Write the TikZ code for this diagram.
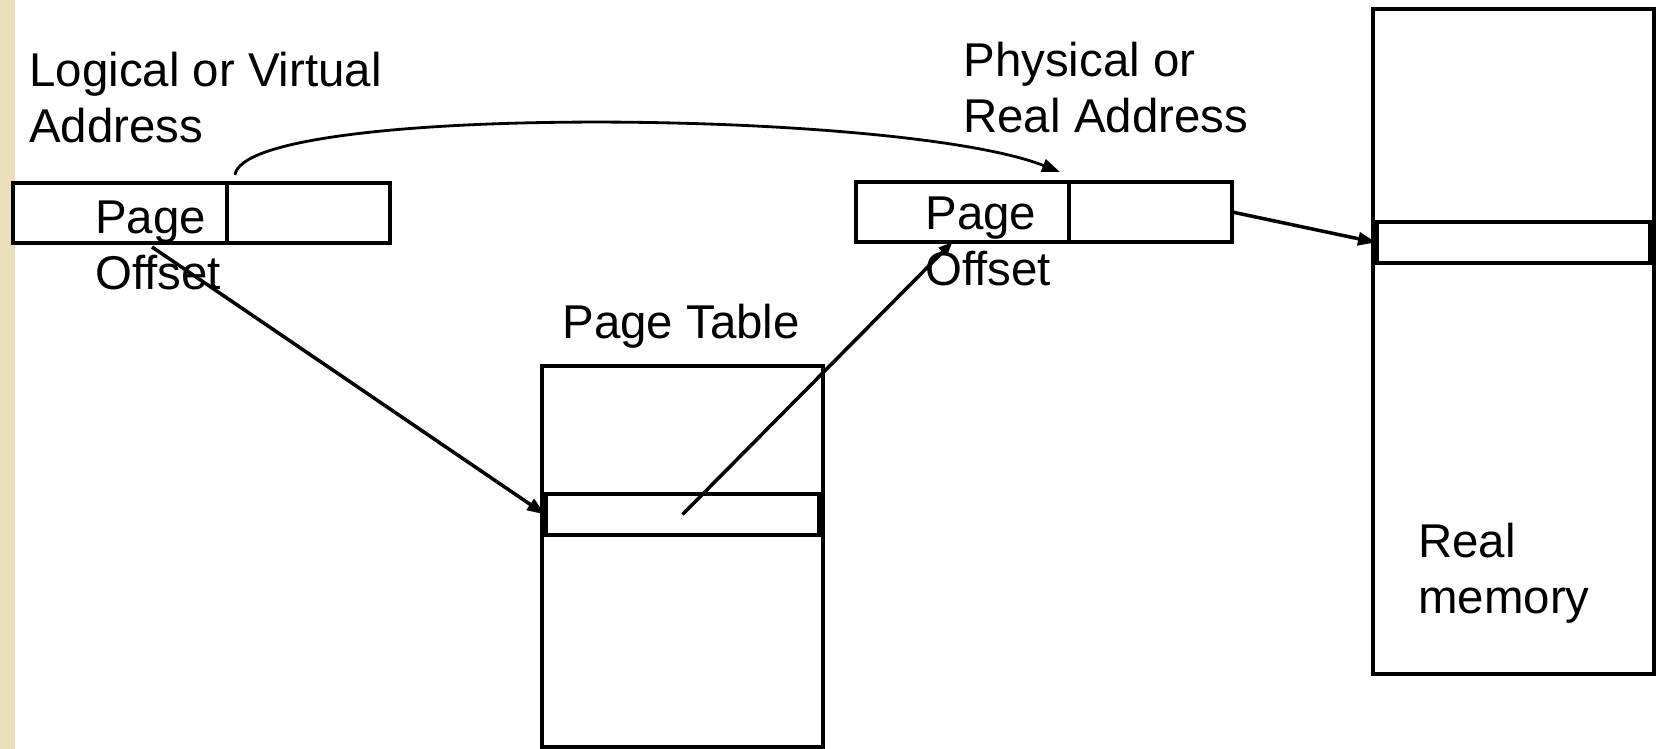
\documentclass[tikz,border=0pt]{standalone}
\usepackage{fontspec}
\setmainfont{Liberation Sans}
\usetikzlibrary{positioning, arrows.meta}
\definecolor{slidetan}{RGB}{236,222,186}
\tikzset{
x=0.02cm, y=0.02cm, % one unit is one pixel of the slide
>={Triangle[length=0.36cm, width=0.26cm]}, % filled arrow heads
every node/.style={font=\fontsize{27}{32.4}\selectfont},
cell/.style={draw, line width=2.2pt, minimum height=1.2cm, inner sep=0pt, outer sep=0pt}, % one field of an address
column/.style={draw, line width=2.2pt, minimum width=5.62cm, inner sep=0pt, outer sep=0pt}, % a block of memory
slot/.style={column, minimum width=5.5cm, minimum height=0.82cm}, % the selected entry
caption/.style={align=left, inner sep=0pt, anchor=base west}, % base sits on the last line
link/.style={->, line width=2pt}
}

\begin{document}
\begin{tikzpicture}
  \useasboundingbox (0,0) rectangle (1659,749);
  \fill[slidetan] (0,0) rectangle (15,749);

  % virtual address
  \node[cell, minimum width=4.28cm, anchor=north west] (lpage) at (13,566) {};
  \node[cell, minimum width=3.26cm, right=0pt of lpage] (loff) {};
  \node[caption] (vname) at (29,606) {Logical or Virtual\\Address};
  \node[caption] (lfield) at (95,459) {Page\\Offset};

  % physical address
  \node[cell, minimum width=4.26cm, anchor=north west] (rpage) at (856,567) {};
  \node[cell, minimum width=3.26cm, right=0pt of rpage] (roff) {};
  \node[caption] (pname) at (963,616) {Physical or\\Real Address};
  \node[caption] (rfield) at (925,463) {Page\\Offset};

  % page table
  \node[column, minimum height=7.62cm] (ptab) at (682.5,192.5) {};
  \node[slot] (pentry) at (682.5,234.5) {};
  \node[caption] (tname) at (562,410) {Page Table};

  % real memory
  \node[column, minimum height=13.3cm] (mem) at (1513.5,407.5) {};
  \node[slot] (mframe) at (1513.5,506.5) {};
  \node[caption] (mname) at (1418,135) {Real\\memory};

  % heavier sides on the selected entries
  \foreach \s in {pentry, mframe}
    \draw[line width=3.6pt] (\s.north west) -- (\s.south west)
      (\s.north east) -- (\s.south east);

  \draw[link] ([xshift=0.64cm, yshift=-0.08cm]lpage.south) -- (pentry.west);
  \draw[link, >={Triangle[length=0.28cm, width=0.22cm]}] (pentry.center) -- ([xshift=-0.2cm]rpage.south);
  \draw[link] (roff.east) -- (mframe.west);
  \draw[->, line width=1.6pt] ([xshift=0.16cm, yshift=0.16cm]loff.north west)
    .. controls +(10,72) and +(-160,63) .. ([xshift=-0.18cm, yshift=0.2cm]roff.north west);
\end{tikzpicture}
\end{document}
